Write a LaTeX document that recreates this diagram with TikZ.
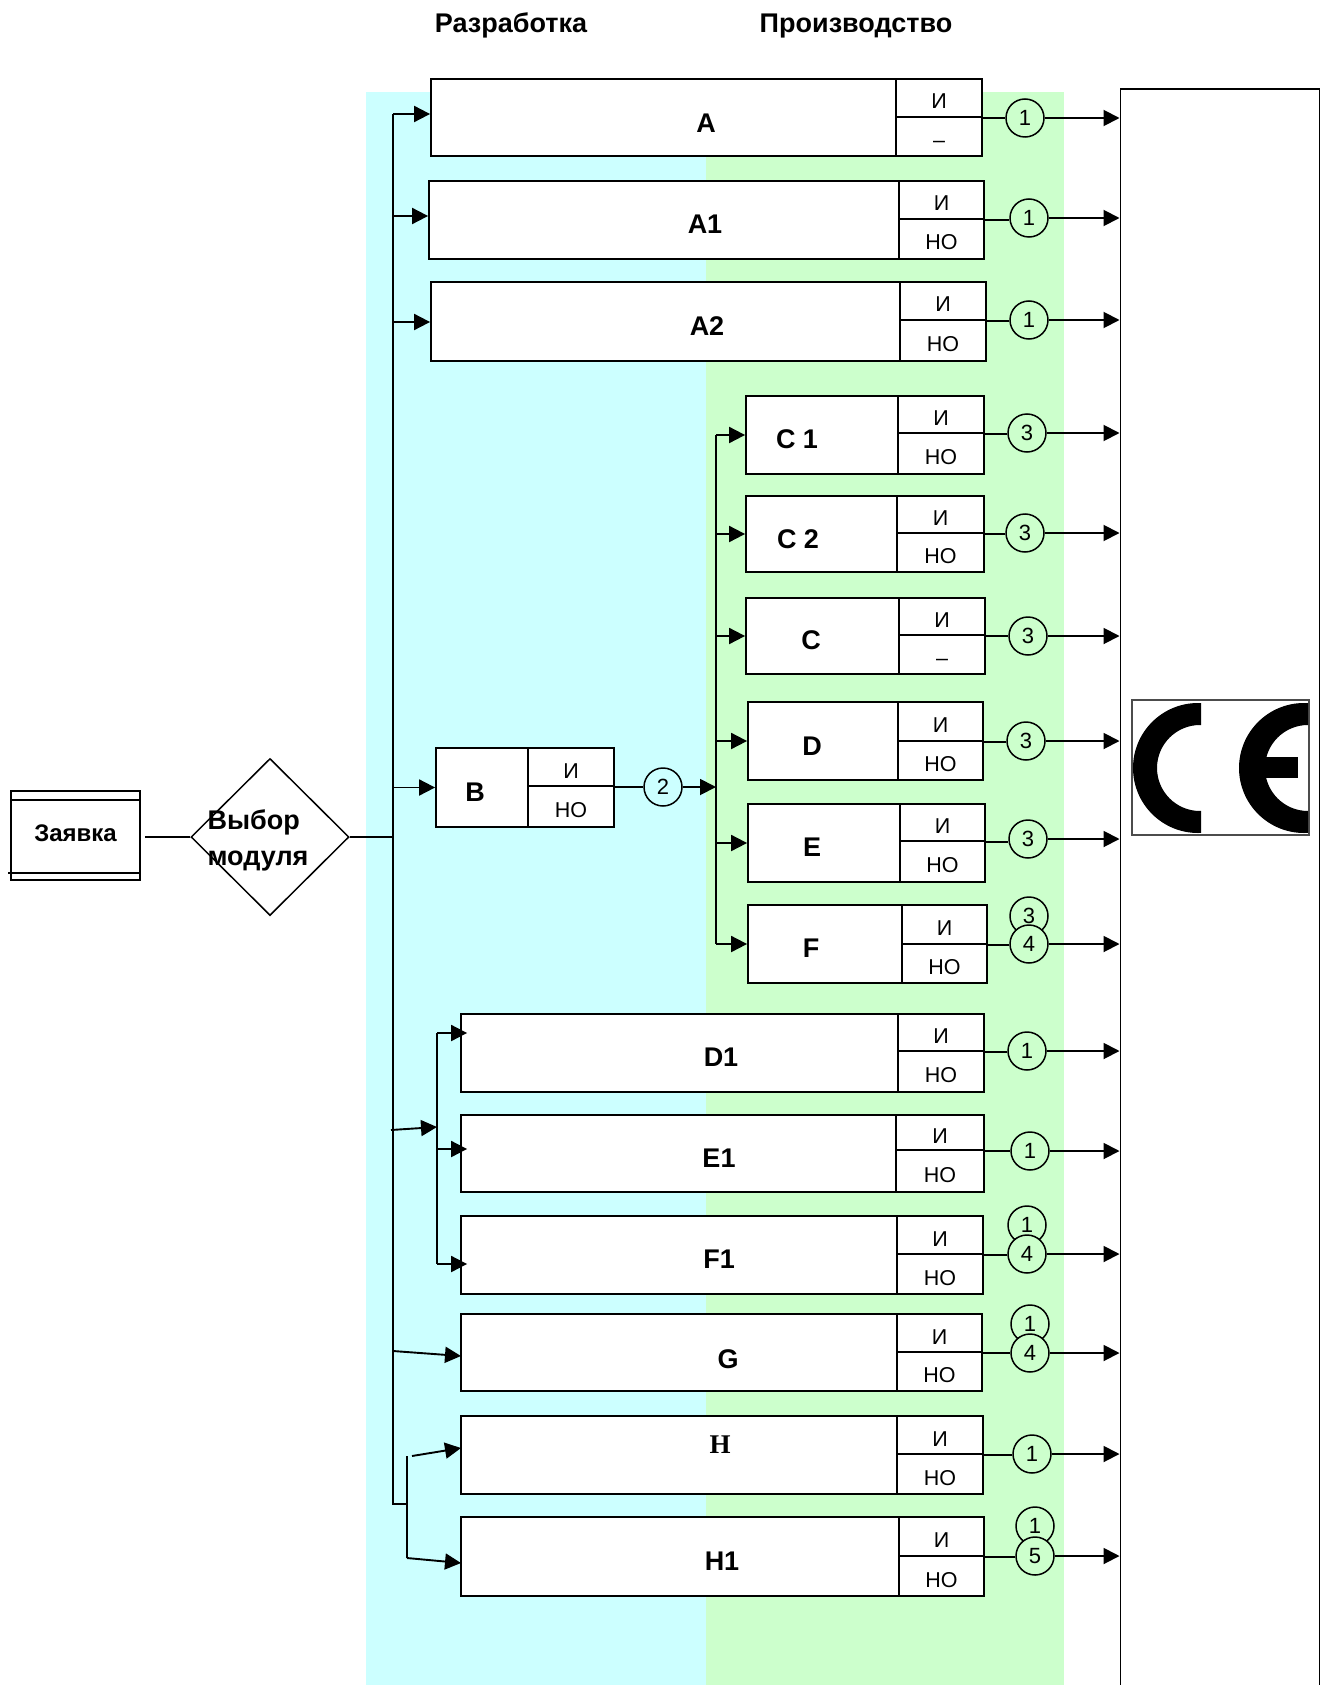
\documentclass[tikz,border=0pt]{standalone}
\usepackage{fontspec}
\setmainfont{Liberation Sans}
\newfontfamily\headserif{Liberation Serif}
\usetikzlibrary{arrows.meta,positioning,calc,shapes.geometric}
\definecolor{devcyan}{HTML}{CCFFFF}
\definecolor{prodgreen}{HTML}{CCFFCC}
\tikzset{
cell/.style={draw,fill=white,line width=1.8pt,inner sep=0pt,font=\fontsize{21.5}{24}\selectfont},
tag/.style={inner sep=0pt,font=\bfseries\fontsize{27}{32}\selectfont},
num/.style={circle,draw,fill=prodgreen,line width=1.5pt,minimum size=38pt,inner sep=0pt,font=\fontsize{22}{24}\selectfont},
link/.style={line width=1.7pt},
flow/.style={-{Triangle[length=16pt,width=16pt]},line width=1.9pt}}
% name, left, top, divider, right, bottom, middle, lower text
\newcommand{\modul}[8]{%
\node[cell,minimum width={(#4-#2)*1pt},minimum height={(#6-#3)*1pt}] (#1-body) at ({(#2+#4)/2},{(#3+#6)/2}) {};
\node[cell,minimum width={(#5-#4)*1pt},minimum height={(#7-#3)*1pt}] (#1-top) at ({(#4+#5)/2},{(#3+#7)/2}) {\raisebox{-11pt}[0pt][0pt]{И}};
\node[cell,minimum width={(#5-#4)*1pt},minimum height={(#6-#7)*1pt}] (#1-bot) at ({(#4+#5)/2},{(#7+#6)/2}) {\raisebox{-11pt}[0pt][0pt]{#8}};}
% name, x, y, number
\newcommand{\numout}[4]{%
\node[num] (#1-num) at (#2,#3) {#4};
\draw[link] (#1-top.south east) -- (#1-num.west |- #1-top.south east);
\draw[flow] (#1-num) -- (#1-num -| sys.west);}
\begin{document}
\begin{tikzpicture}[x=1pt,y=-1pt]
\useasboundingbox (0,0) rectangle (1319,1685);
\fill[devcyan] (366,92) rectangle (705.5,1685);
\fill[prodgreen] (705.5,92) rectangle (1064,1685);
\node[tag] (dev) at (511,25) {Разработка};
\node[tag] (prod) at (856,26) {Производство};
\node[draw,fill=white,line width=1.8pt,minimum width=199pt,minimum height=1650pt,anchor=north west] (sys) at (1119.5,88) {};

% CE mark
\node[draw=black!70,fill=white,line width=1.2pt,minimum width=177pt,minimum height=135pt] (ce) at (1220.5,767.5) {};
\begin{scope}
\clip (1125,690) rectangle (1201,840);
\fill[even odd rule] (1198,768) circle (65pt) (1200,768) circle (43pt);
\end{scope}
\begin{scope}
\clip (1230,690) rectangle (1308,840);
\fill[even odd rule] (1304,768) circle (65pt) (1308,768) circle (43pt);
\end{scope}
\fill (1265,757) rectangle (1298,778);

% request and choice
\node[draw,fill=white,line width=1.6pt,minimum width=129pt,minimum height=89pt,inner sep=0pt,font=\bfseries\fontsize{24}{28}\selectfont] (order) at (75.5,835.5) {\raisebox{-6pt}[0pt][0pt]{Заявка}};
\draw[link] ([yshift=-10pt]order.north west) -- ([yshift=-10pt]order.north east);
\draw[link] ([xshift=-2pt,yshift=8pt]order.south west) -- ([xshift=-2pt,yshift=8pt]order.south east);
\node[diamond,draw,line width=1.5pt,minimum width=158pt,minimum height=157pt,inner sep=0pt] (choice) at (270,837) {};
\node[tag,align=left,font=\bfseries\fontsize{27}{36}\selectfont] (choicetext) at (258,840) {Выбор\\модуля};
\draw[link,shorten <=4pt] (order.east |- choice.west) -- (choice.west);

% trunks
\coordinate (fork) at (393,837);
\coordinate (trunktop) at (393,114);
\coordinate (trunkbot) at (393,1504);
\coordinate (hfork) at (407,1504);
\coordinate (htop) at (407,1456);
\coordinate (hbot) at (407,1558);
\coordinate (ctop) at (716,435);
\coordinate (cbot) at (716,944);
\coordinate (dtop) at (437,1033);
\coordinate (dmid) at (437,1149);
\coordinate (dbot) at (437,1264);
\draw[link] (choice.east) -- (fork);
\draw[link] (trunktop) -- (trunkbot) -- (hfork);
\draw[link] (htop) -- (hbot);
\draw[link] (ctop) -- (cbot);
\draw[link] (dtop) -- (dbot);

% modules
\modul{a}{431}{79}{896}{982}{156}{117}{–}
\modul{aone}{429}{181}{899}{984}{259}{219}{НО}
\modul{atwo}{431}{282}{900}{986}{361}{320}{НО}
\modul{b}{436}{748}{528}{614}{827}{786}{НО}
\modul{cone}{746}{396}{898}{984}{474}{433}{НО}
\modul{ctwo}{746}{496}{897}{984}{572}{533}{НО}
\modul{c}{746}{598}{899}{985}{674}{635}{–}
\modul{d}{748}{702}{898}{983}{780}{741}{НО}
\modul{e}{748}{804}{900}{985}{882}{841}{НО}
\modul{f}{748}{905}{902}{987}{983}{944}{НО}
\modul{done}{461}{1014}{898}{984}{1092}{1051}{НО}
\modul{eone}{461}{1115}{896}{984}{1192}{1150}{НО}
\modul{fone}{461}{1216}{897}{983}{1294}{1254}{НО}
\modul{g}{461}{1314}{897}{982}{1391}{1352}{НО}
\modul{h}{461}{1416}{897}{983}{1494}{1454}{НО}
\modul{hone}{461}{1517}{899}{984}{1596}{1556}{НО}

\node[tag] (a-tag) at (706,123) {A};
\node[tag] (aone-tag) at (705,224) {A1};
\node[tag] (atwo-tag) at (707,326) {A2};
\node[tag] (b-tag) at (475,792) {B};
\node[tag] (cone-tag) at (797,439) {C 1};
\node[tag] (ctwo-tag) at (798,539) {C 2};
\node[tag] (c-tag) at (811,640) {C};
\node[tag] (d-tag) at (812,746) {D};
\node[tag] (e-tag) at (812,847) {E};
\node[tag] (f-tag) at (811,948) {F};
\node[tag] (done-tag) at (721,1057) {D1};
\node[tag] (eone-tag) at (719,1158) {E1};
\node[tag] (fone-tag) at (719,1259) {F1};
\node[tag] (g-tag) at (728,1359) {G};
\node[tag,font=\headserif\bfseries\fontsize{27}{32}\selectfont] (h-tag) at (720,1445) {H};
\node[tag] (hone-tag) at (722,1561) {H1};

% inputs
\coordinate (aonein) at (393,216);
\coordinate (atwoin) at (393,322);
\draw[flow] (trunktop) -- (trunktop -| a-body.west);
\draw[flow] (aonein) -- (aonein -| aone-body.west);
\draw[flow] (atwoin) -- (atwoin -| atwo-body.west);
\draw[flow] (b-body.west -| fork) -- (b-body.west);
\draw[flow] (cone-body.west -| ctop) -- (cone-body.west);
\draw[flow] (ctwo-body.west -| ctop) -- (ctwo-body.west);
\draw[flow] (c-body.west -| ctop) -- (c-body.west);
\draw[flow] (d-body.west -| ctop) -- (d-body.west);
\draw[flow] (e-body.west -| ctop) -- (e-body.west);
\draw[flow] (f-body.west -| ctop) -- (f-body.west);
\draw[flow,shorten >=-7pt] (dtop) -- (dtop -| done-body.west);
\draw[flow,shorten >=-7pt] (dmid) -- (dmid -| eone-body.west);
\draw[flow,shorten >=-7pt] (dbot) -- (dbot -| fone-body.west);
\coordinate (dsrc) at (391,1130);
\coordinate (dhit) at (437,1127);
\draw[flow] (dsrc) -- (dhit);
\coordinate (gsrc) at (393,1351);
\coordinate (ghit) at (461,1356);
\draw[flow] (gsrc) -- (ghit);
\coordinate (hsrc) at (412,1456);
\coordinate (hhit) at (461,1448);
\draw[flow] (hsrc) -- (hhit);
\coordinate (honehit) at (461,1563);
\draw[flow] (hbot) -- (honehit);

% outputs
\numout{a}{1025}{118}{1}
\numout{aone}{1029}{218}{1}
\numout{atwo}{1029}{320}{1}
\numout{cone}{1027}{433}{3}
\numout{ctwo}{1025}{533}{3}
\numout{c}{1028}{636}{3}
\numout{d}{1026}{741}{3}
\numout{e}{1028}{839}{3}
\node[num] (f-extra) at (1029,916) {3};
\numout{f}{1029}{944}{4}
\numout{done}{1027}{1051}{1}
\numout{eone}{1030}{1151}{1}
\node[num] (fone-extra) at (1027,1225) {1};
\numout{fone}{1027}{1254}{4}
\node[num] (g-extra) at (1030,1324) {1};
\numout{g}{1030}{1353}{4}
\numout{h}{1032}{1454}{1}
\node[num] (hone-extra) at (1035,1526) {1};
\numout{hone}{1035}{1556}{5}
\node[num,fill=devcyan] (b-num) at (663,787) {2};
\draw[link] (b-top.south east) -- (b-num.west |- b-top.south east);
\draw[flow] (b-num) -- (b-num -| ctop);
\end{tikzpicture}
\end{document}
